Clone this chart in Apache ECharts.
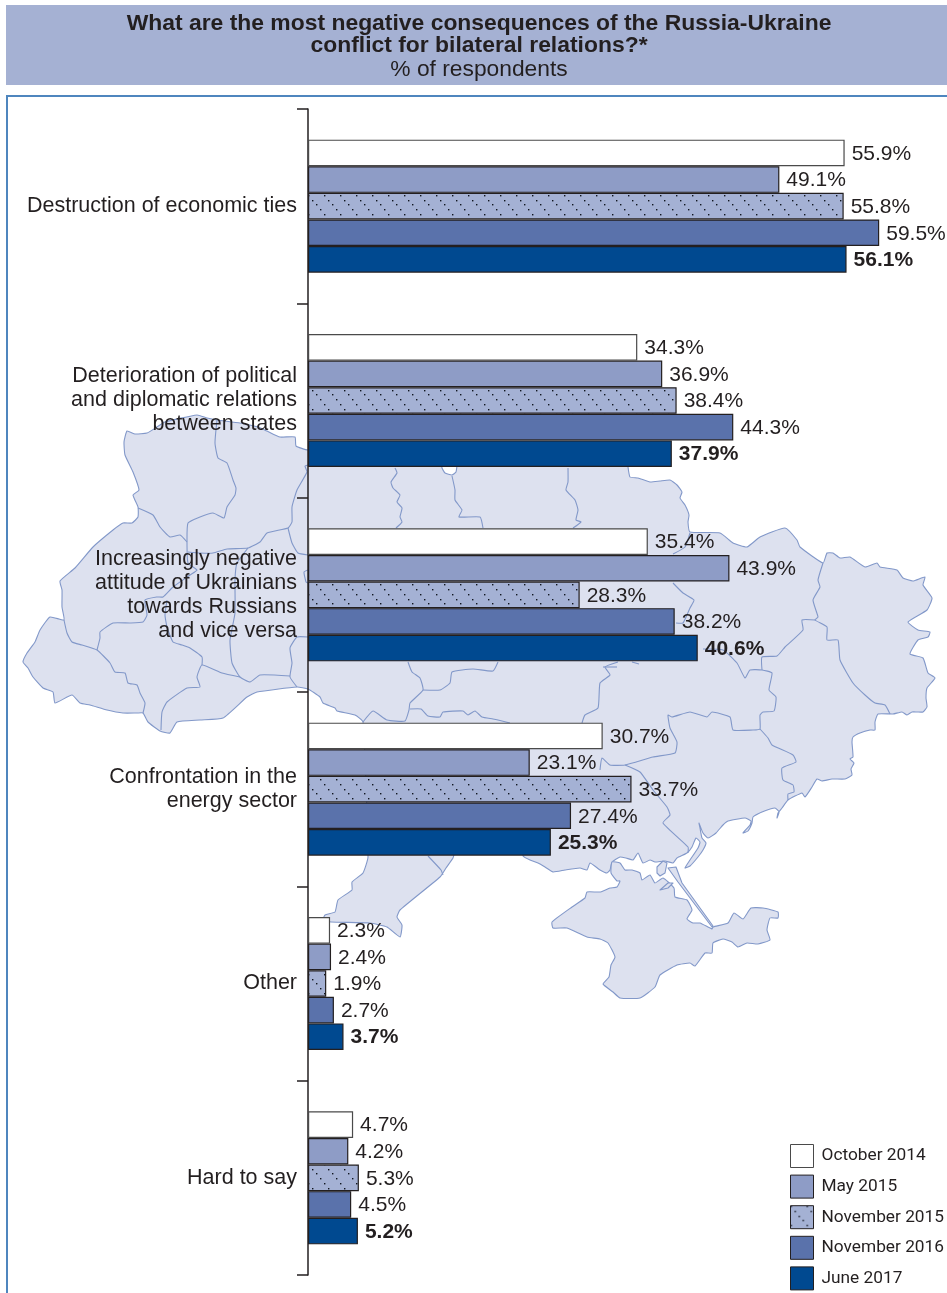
<!DOCTYPE html>
<html><head><meta charset="utf-8">
<style>html,body{margin:0;padding:0;background:#fff}#c{width:947px;height:1293px}</style>
<script src="https://cdn.jsdelivr.net/npm/echarts@6/dist/echarts.min.js"></script>
</head><body><div id="c"></div>
<script>
const categories = ["Destruction of economic ties","Deterioration of political\nand diplomatic relations\nbetween states","Increasingly negative\nattitude of Ukrainians\ntowards Russians\nand vice versa","Confrontation in the\nenergy sector","Other","Hard to say"];
const oct2014 = [55.9,34.3,35.4,30.7,2.3,4.7];
const may2015 = [49.1,36.9,43.9,23.1,2.4,4.2];
const nov2015 = [55.8,38.4,28.3,33.7,1.9,5.3];
const nov2016 = [59.5,44.3,38.2,27.4,2.7,4.5];
const jun2017 = [56.1,37.9,40.6,25.3,3.7,5.2];

// Decorative background map of Ukraine
const mapMain = [[127,431],[135,434],[147,433],[157,427],[165,422],[197,415],[207,418],[217,420],[240,423],[258,427],[267,431],[280,437],[295,437],[296,446],[308,450],[440,458],[442,468],[445,473],[452,475],[456,472],[457,466],[460,455],[627,455],[628,467],[630,477],[638,478],[650,482],[660,481],[670,480],[677,485],[682,492],[680,498],[685,505],[689,515],[688,522],[690,532],[720,533],[733,543],[747,547],[760,537],[785,528],[797,540],[800,547],[823,563],[827,553],[833,553],[840,558],[850,557],[865,567],[877,563],[880,567],[897,570],[903,578],[913,581],[925,577],[923,585],[932,598],[927,610],[908,622],[918,630],[930,632],[928,637],[918,640],[910,654],[923,658],[928,673],[935,678],[927,688],[926,698],[927,707],[923,712],[917,712],[912,712],[907,715],[902,712],[893,714],[878,714],[875,722],[875,730],[870,730],[860,733],[853,737],[852,742],[853,757],[850,759],[854,763],[851,769],[852,775],[845,779],[832,779],[822,781],[817,779],[812,787],[805,797],[802,793],[788,800],[782,808],[778,813],[777,818],[779,812],[775,808],[762,812],[753,817],[752,823],[748,831],[743,833],[750,825],[751,821],[745,818],[728,821],[723,825],[716,833],[708,838],[703,833],[699,823],[700,828],[702,838],[706,843],[703,850],[698,857],[690,866],[685,868],[690,860],[698,848],[700,842],[696,838],[692,847],[687,853],[677,858],[673,863],[665,861],[655,862],[650,860],[643,863],[638,853],[633,860],[626,858],[620,857],[612,862],[610,870],[607,873],[600,870],[590,863],[587,870],[580,868],[565,870],[553,872],[545,867],[538,863],[530,860],[523,856],[523,850],[456,850],[453,858],[446,868],[440,877],[400,910],[397,917],[402,925],[400,937],[387,927],[370,923],[331,922],[323,920],[325,915],[335,912],[338,900],[352,890],[352,882],[363,873],[368,857],[363,722],[355,715],[337,711],[335,708],[323,703],[320,697],[308,689],[297,687],[257,692],[247,697],[223,718],[200,720],[177,722],[170,733],[160,731],[148,722],[143,713],[137,713],[123,713],[107,710],[90,705],[80,703],[72,695],[55,703],[53,692],[43,688],[33,677],[28,668],[23,662],[27,653],[35,642],[40,630],[50,617],[64,620],[62,607],[62,590],[60,581],[75,568],[93,547],[113,530],[123,523],[132,523],[138,517],[138,507],[133,495],[139,490],[133,472],[125,455],[124,442]];
const mapCrimea = [[612,862],[611,873],[617,881],[620,881],[617,887],[610,888],[600,892],[587,892],[585,898],[572,907],[552,922],[553,928],[567,928],[587,937],[600,939],[608,943],[615,957],[611,965],[609,977],[603,984],[613,992],[620,998],[640,998],[655,987],[660,975],[677,965],[690,963],[695,966],[705,953],[712,953],[713,943],[723,939],[732,942],[738,947],[747,943],[758,944],[770,940],[767,930],[770,918],[778,918],[778,912],[763,908],[751,908],[743,919],[734,913],[728,923],[713,927],[712,929],[700,923],[693,923],[687,919],[692,910],[687,900],[675,897],[674,888],[663,878],[655,883],[650,875],[642,880],[640,873],[632,870],[625,870],[620,863]];
const mapIslands = [
 [[663,861],[657,867],[657,873],[660,876],[665,873],[667,863]],
 [[668,868],[676,867],[682,883],[713,926],[712,927],[678,882]],
 [[660,890],[668,883],[673,883],[668,888]]
];
const mapBorders = [
 [[217,420],[215,443],[218,458],[227,463],[233,480],[236,488],[235,495],[227,507],[224,518],[213,513],[200,517],[188,523],[187,540],[188,563],[197,570],[190,575],[173,587],[163,597],[157,597],[145,600],[147,615],[143,622],[130,623],[113,623],[100,632],[100,638],[97,650]],
 [[138,508],[153,515],[160,527],[170,537],[180,535],[187,542]],
 [[308,465],[305,466],[307,472],[297,490],[292,507],[292,522],[288,528],[267,533],[260,542],[248,548],[227,549],[213,553],[200,553],[188,552]],
 [[248,548],[237,563],[235,580],[235,613],[230,640],[232,663],[240,677],[250,682],[260,675],[290,676]],
 [[288,528],[292,543],[298,553],[308,555]],
 [[308,570],[304,572],[306,582],[308,583]],
 [[308,637],[297,637],[290,648],[292,663],[290,677],[297,687]],
 [[240,677],[222,673],[202,665],[197,677],[200,687],[187,688],[167,702],[162,712],[161,730]],
 [[202,665],[202,657],[190,648],[182,645],[173,642],[167,627],[165,615],[167,600]],
 [[64,620],[67,633],[72,642],[82,645],[97,650],[110,663],[115,672],[125,673],[128,683],[137,685],[140,693],[145,703],[143,713]],
 [[395,468],[397,473],[391,482],[393,488],[400,495],[397,502],[402,508],[400,517],[402,522],[396,528]],
 [[452,476],[455,490],[455,500],[462,510],[459,517],[480,517],[483,528]],
 [[568,468],[568,482],[566,490],[575,500],[578,510],[576,520],[581,522],[573,528]],
 [[690,533],[685,547],[673,554]],
 [[673,583],[683,593],[694,600],[690,608],[683,623],[676,623]],
 [[703,649],[723,650],[737,663],[745,678],[750,670],[762,670],[772,673],[769,690],[776,697],[774,711],[763,712],[760,715],[760,729],[753,730],[733,730],[730,717],[712,712],[707,717],[690,712],[672,717],[668,715],[670,728],[677,742],[675,753],[653,757],[625,765],[610,765],[602,758],[600,770]],
 [[762,670],[762,657],[777,656],[785,647],[803,630],[802,620],[815,620]],
 [[823,563],[818,580],[820,587],[813,600],[818,617],[815,620],[827,627],[827,640],[838,640],[840,660],[853,683],[865,695],[875,703],[885,705],[890,714]],
 [[760,729],[768,738],[772,745],[793,755],[796,762],[782,768],[783,780],[793,785],[794,792],[788,794],[788,800]],
 [[625,765],[640,772],[653,790],[667,807],[670,815],[663,823],[688,847],[688,853]],
 [[408,662],[412,672],[420,678],[423,690],[410,703],[409,710],[405,721],[387,720],[373,711],[363,722]],
 [[423,690],[440,690],[450,683],[452,672],[473,669],[493,671],[498,662]],
 [[410,709],[421,709],[428,716],[440,717],[443,712],[463,711],[468,715],[475,711],[482,717],[493,719],[502,721],[510,723]],
 [[618,662],[605,667],[610,675],[600,683],[598,708],[585,715],[582,723]],
 [[603,667],[617,667]],
 [[632,662],[639,664]],
 [[428,856],[441,870],[443,875]]
];

const INK = "#231F20";
const dots = document.createElement("canvas");
dots.width = 16; dots.height = 19;
(function(){
  const g = dots.getContext("2d");
  g.fillStyle = "#A4B1D4"; g.fillRect(0,0,16,19);
  g.fillStyle = "#10151f";
  [[0,0],[4,5],[8,10],[12,14]].forEach(p => g.fillRect(p[0], p[1], 1.4, 1.4));
})();

function bar(name, data, fill, bold, border) {
  return {
    name, type: "bar", data, barWidth: 26.6, barGap: "0%",
    itemStyle: { color: fill, borderColor: border || INK, borderWidth: 1.2 },
    label: { show: true, position: "right", distance: 7, offset: [0,1], formatter: "{c}%", color: INK,
      fontFamily: "Liberation Sans", fontSize: 21, fontWeight: bold ? "bold" : "normal" }
  };
}
const mapStyle = { fill: "#DDE1EF", stroke: "#8298C9", lineWidth: 1.1, lineJoin: "round" };
const graphics = [
  { type: "rect", z: -5, shape: { x: 6, y: 5, width: 941, height: 80 }, style: { fill: "#A5B1D3" } },
  { type: "polyline", z: -5, shape: { points: [[947,96],[7,96],[7,1293]] }, style: { stroke: "#4F86BE", lineWidth: 2, fill: null } },
  { type: "polygon", z: -4, shape: { points: mapMain, smooth: 0.15 }, style: mapStyle },
  { type: "polygon", z: -4, shape: { points: mapCrimea, smooth: 0.15 }, style: mapStyle }
].concat(mapIslands.map(p => ({ type: "polygon", z: -4, shape: { points: p }, style: mapStyle })))
 .concat(mapBorders.map(p => ({ type: "polyline", z: -3, shape: { points: p, smooth: 0.15 }, style: { fill: null, stroke: "#8298C9", lineWidth: 1.1, lineJoin: "round" } })));

const chart = echarts.init(document.getElementById("c"), null, { renderer: "canvas" });
chart.setOption({
  animation: false,
  backgroundColor: "#fff",
  title: {
    text: "What are the most negative consequences of the Russia-Ukraine\nconflict for bilateral relations?*",
    subtext: "% of respondents",
    left: 479, top: 12, padding: 0, textAlign: "center", itemGap: 1,
    textStyle: { fontFamily: "Liberation Sans", fontSize: 22.9, fontWeight: "bold", color: INK, lineHeight: 22.5 },
    subtextStyle: { fontFamily: "Liberation Sans", fontSize: 22.8, color: INK, lineHeight: 22 }
  },
  graphic: graphics,
  grid: { left: 308, top: 109, width: 576, height: 1166 },
  xAxis: { type: "value", min: 0, max: 60, show: false },
  yAxis: {
    type: "category", inverse: true, data: categories,
    axisLine: { show: true, lineStyle: { color: INK, width: 1.5 } },
    axisTick: { show: true, length: 11, lineStyle: { color: INK, width: 1.5 } },
    axisLabel: { margin: 11, color: INK, fontFamily: "Liberation Sans", fontSize: 21.5, lineHeight: 24, align: "right", interval: 0, padding: [5,0,0,0] }
  },
  legend: {
    orient: "vertical", left: 790, top: 1144, height: 180, padding: 0, itemWidth: 23, itemHeight: 23, itemGap: 6.6,
    icon: "rect", selectedMode: false,
    itemStyle: { borderWidth: 1 },
    textStyle: { fontFamily: "Roboto", fontSize: 17.3, lineHeight: 23, color: INK, padding: [0,0,0,3] },
    data: ["October 2014","May 2015","November 2015","November 2016","June 2017"]
  },
  series: [
    bar("October 2014", oct2014, "#FFFFFF", false, "#4a4a4a"),
    bar("May 2015", may2015, "#8E9CC6", false),
    bar("November 2015", nov2015, { image: dots, repeat: "repeat" }, false),
    bar("November 2016", nov2016, "#5A72AB", false),
    bar("June 2017", jun2017, "#004990", true)
  ]
});
</script></body></html>
